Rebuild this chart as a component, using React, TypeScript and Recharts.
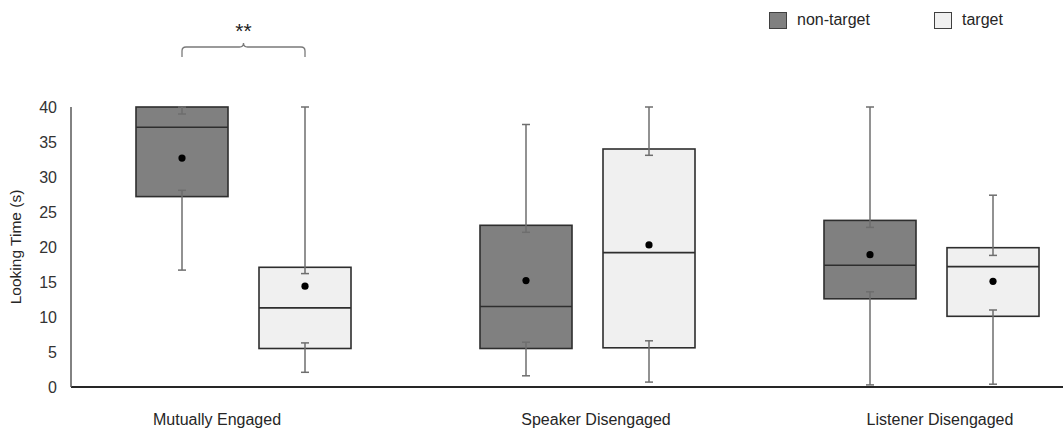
import React from "react"
import { Bar, ComposedChart, Legend, XAxis, YAxis } from "recharts"

const categories = ["Mutually Engaged", "Speaker Disengaged", "Listener Disengaged"]
const significance = ["**", "", ""]

// non-target
const nonTargetMin = [16.7, 1.6, 0.3]
const nonTargetLowCap = [28.1, 6.4, 13.6]
const nonTargetQ1 = [27.2, 5.5, 12.6]
const nonTargetMedian = [37.1, 11.5, 17.4]
const nonTargetQ3 = [40, 23.1, 23.8]
const nonTargetHighCap = [39.0, 22.1, 22.8]
const nonTargetMax = [40, 37.5, 40]
const nonTargetMean = [32.7, 15.2, 18.9]

// target
const targetMin = [2.1, 0.7, 0.4]
const targetLowCap = [6.3, 6.6, 11.0]
const targetQ1 = [5.5, 5.6, 10.1]
const targetMedian = [11.3, 19.2, 17.2]
const targetQ3 = [17.1, 34.0, 19.9]
const targetHighCap = [16.2, 33.1, 18.8]
const targetMax = [40, 40, 27.4]
const targetMean = [14.4, 20.3, 15.1]

const yTicks = [0, 5, 10, 15, 20, 25, 30, 35, 40]

const FONT = "'Liberation Sans', Arial, sans-serif"
const BAR_SIZE = 92
const BAR_GAP = 31
// small horizontal nudge of the category labels, as in the original figure
const tickNudge = [-26, 9, 9]

type Stats = {
  min: number
  lowCap: number
  q1: number
  median: number
  q3: number
  highCap: number
  max: number
  mean: number
}

const pick = (i: number, a: number[][]): Stats => ({
  min: a[0][i],
  lowCap: a[1][i],
  q1: a[2][i],
  median: a[3][i],
  q3: a[4][i],
  highCap: a[5][i],
  max: a[6][i],
  mean: a[7][i],
})

const data = categories.map((name, i) => ({
  name,
  sig: significance[i],
  nt: pick(i, [
    nonTargetMin, nonTargetLowCap, nonTargetQ1, nonTargetMedian,
    nonTargetQ3, nonTargetHighCap, nonTargetMax, nonTargetMean,
  ]),
  t: pick(i, [
    targetMin, targetLowCap, targetQ1, targetMedian,
    targetQ3, targetHighCap, targetMax, targetMean,
  ]),
}))

function Whisker({ cx, y1, y2 }: { cx: number; y1: number; y2: number }) {
  const c = 4
  return (
    <g stroke="#6e6e6e" strokeWidth={1.5}>
      <line x1={cx} x2={cx} y1={y1} y2={y2} />
      <line x1={cx - c} x2={cx + c} y1={y1} y2={y1} />
      <line x1={cx - c} x2={cx + c} y1={y2} y2={y2} />
    </g>
  )
}

function BoxShape(props: any) {
  const { x, y, width, height, payload, fill, series } = props
  const s: Stats = payload[series]
  const top = Math.min(y, y + height)
  const h = Math.abs(height)
  // pixels per unit, taken from the bar the library laid out between q1 and q3
  const unit = h / (s.q3 - s.q1)
  const yOf = (v: number) => top + h - (v - s.q1) * unit
  const cx = x + width / 2

  let bracket = null
  if (series === "t" && payload.sig) {
    const left = cx - width - BAR_GAP
    const mid = (left + cx) / 2
    const plotTop = yOf(yTicks[yTicks.length - 1])
    const yl = plotTop - 60
    const yEnd = plotTop - 50
    const r = 4
    bracket = (
      <g>
        <path
          d={`M${left},${yEnd} L${left},${yl + r} Q${left},${yl} ${left + r},${yl} L${mid - r},${yl} Q${mid},${yl} ${mid},${yl - r} Q${mid},${yl} ${mid + r},${yl} L${cx - r},${yl} Q${cx},${yl} ${cx},${yl + r} L${cx},${yEnd}`}
          fill="none"
          stroke="#7a7a7a"
          strokeWidth={1.3}
        />
        <text x={mid} y={yl - 9} textAnchor="middle" fontSize={21} fontFamily={FONT} fill="#222">
          {payload.sig}
        </text>
      </g>
    )
  }

  return (
    <g>
      <rect x={x} y={top} width={width} height={h} fill={fill} stroke="#2e2e2e" strokeWidth={1.6} />
      <line x1={x} x2={x + width} y1={yOf(s.median)} y2={yOf(s.median)} stroke="#2e2e2e" strokeWidth={1.6} />
      <Whisker cx={cx} y1={yOf(s.highCap)} y2={yOf(s.max)} />
      <Whisker cx={cx} y1={yOf(s.min)} y2={yOf(s.lowCap)} />
      <circle cx={cx} cy={yOf(s.mean)} r={3.6} fill="#000" />
      {bracket}
    </g>
  )
}

function CategoryTick(props: any) {
  const { x, y, payload, index } = props
  return (
    <text
      x={x + (tickNudge[index] ?? 0)}
      y={y}
      dy="0.71em"
      textAnchor="middle"
      fontSize={16}
      fontFamily={FONT}
      fill="#262626"
    >
      {payload.value}
    </text>
  )
}

function LegendContent(props: any) {
  const { payload } = props
  return (
    <div style={{ display: "flex", fontFamily: FONT, fontSize: 16, color: "#262626" }}>
      {(payload || []).map((entry: any) => (
        <div key={entry.value} style={{ display: "flex", alignItems: "center", width: 165 }}>
          <span
            style={{
              display: "inline-block",
              width: 16,
              height: 15,
              background: entry.color,
              border: "1.5px solid #404040",
              marginRight: 10,
            }}
          />
          <span>{entry.value}</span>
        </div>
      ))}
    </div>
  )
}

export default function App() {
  return (
    <div style={{ position: "absolute", left: 0, top: 0, width: 1063, height: 429, overflow: "hidden", background: "#fff" }}>
      <ComposedChart
        width={1110}
        height={429}
        data={data}
        barSize={BAR_SIZE}
        barGap={BAR_GAP}
        margin={{ top: 107, right: 7, bottom: 12, left: 11 }}
      >
        <XAxis
          dataKey="name"
          height={30}
          tick={<CategoryTick />}
          tickLine={false}
          tickMargin={21}
          axisLine={{ stroke: "#262626", strokeWidth: 2 }}
          interval={0}
        />
        <YAxis
          width={60}
          domain={[0, 40]}
          ticks={yTicks}
          interval={0}
          tickLine={false}
          tickMargin={8}
          tick={{ fill: "#333", fontSize: 16, fontFamily: FONT }}
          axisLine={{ stroke: "#595959", strokeWidth: 1.5 }}
          label={{
            value: "Looking Time (s)",
            angle: -90,
            position: "insideLeft",
            offset: 4,
            style: { textAnchor: "middle", fontSize: 15.5, fontFamily: FONT, fill: "#262626" },
          }}
        />
        <Legend
          layout="vertical"
          align="center"
          verticalAlign="middle"
          content={<LegendContent />}
          wrapperStyle={{ left: 769, top: 11, width: 340, height: 20 }}
        />
        <Bar
          name="non-target"
          dataKey={(d: any) => [d.nt.q1, d.nt.q3]}
          fill="#808080"
          shape={(p: any) => <BoxShape {...p} series="nt" />}
          isAnimationActive={false}
        />
        <Bar
          name="target"
          dataKey={(d: any) => [d.t.q1, d.t.q3]}
          fill="#f0f0f0"
          shape={(p: any) => <BoxShape {...p} series="t" />}
          isAnimationActive={false}
        />
      </ComposedChart>
    </div>
  )
}
